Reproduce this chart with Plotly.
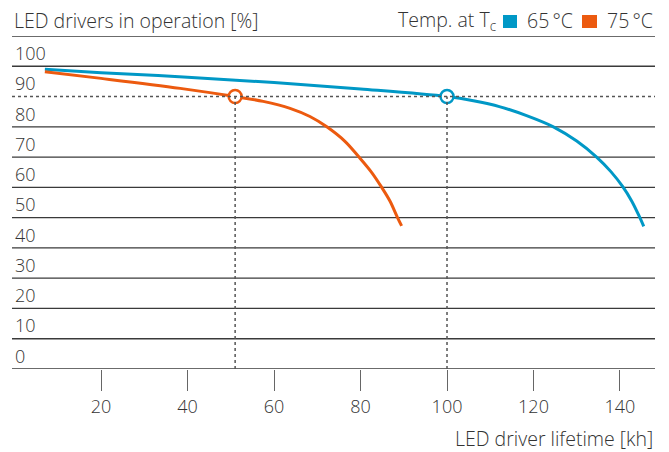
import plotly.graph_objects as go

# lifetime [kh] and share of drivers still running [%]
kh_65 = [7, 20, 40, 60, 80, 100, 106.1, 112.3, 118.4, 124.6, 130, 134.6, 137.9, 140.6, 142.7, 144.5, 145.5]
pct_65 = [99.0, 97.9, 96.4, 94.6, 92.5, 90, 88.6, 86.6, 83.7, 80, 75.3, 70, 65.2, 60.3, 55.5, 50.3, 47.1]

kh_75 = [7, 20, 38.3, 51, 57.5, 63.7, 68.3, 72.2, 76.4, 79.65, 82.6, 84.9, 86.8, 88.5, 89.5]
pct_75 = [98.2, 96.0, 92.7, 90, 88.4, 86.1, 83.4, 80, 75.2, 70, 64.9, 60, 55.5, 50.2, 47.3]

marker_kh = [100, 51]
marker_pct = [90, 90]

y_ticks = [0, 10, 20, 30, 40, 50, 60, 70, 80, 90, 100]
grid_levels = [0, 10, 20, 30, 40, 50, 60, 70, 80, 100, 110]
x_ticks = [20, 40, 60, 80, 100, 120, 140]

BLUE = "#0098c6"
ORANGE = "#ec5a0f"
TXT = "#333333"
FONT = "Open Sans"

fig = go.Figure()

# helper dotted lines at 90 %
fig.add_shape(type="line", xref="paper", x0=0, x1=1, y0=90, y1=90,
              line=dict(color="#555555", width=1.5, dash="3px,3px"))
for k in marker_kh:
    fig.add_shape(type="line", x0=k, x1=k, y0=0, y1=90,
                  line=dict(color="#555555", width=1.5, dash="3px,3px"))

for g in grid_levels:
    fig.add_shape(type="line", xref="paper", x0=0, x1=1, y0=g, y1=g,
                  line=dict(color="#3a3a3a", width=1.3), layer="below")

fig.add_trace(go.Scatter(x=kh_65, y=pct_65, mode="lines",
                         line=dict(color=BLUE, width=3, shape="spline", smoothing=1),
                         showlegend=False, hoverinfo="skip"))
fig.add_trace(go.Scatter(x=kh_75, y=pct_75, mode="lines",
                         line=dict(color=ORANGE, width=3, shape="spline", smoothing=1),
                         showlegend=False, hoverinfo="skip"))
fig.add_trace(go.Scatter(x=marker_kh, y=marker_pct, mode="markers",
                         marker=dict(size=13, color="white", line=dict(color=[BLUE, ORANGE], width=2.5)),
                         showlegend=False, hoverinfo="skip"))

fig.update_xaxes(range=[-0.6, 148.1], tickvals=x_ticks, showgrid=False, zeroline=False,
                 showline=False, ticks="outside", ticklen=21, tickcolor="#666666", tickwidth=1.3,
                 automargin=False,
                 tickfont=dict(size=18, color=TXT, family=FONT, weight=300))
fig.update_yaxes(range=[0, 110], tickvals=y_ticks, showgrid=False, zeroline=False, showline=False,
                 ticks="", ticklabelposition="inside top", automargin=False,
                 tickfont=dict(size=18, color=TXT, family=FONT, weight=300))

fig.add_annotation(text="LED drivers in operation [%]", xref="paper", yref="paper", x=0, y=1,
                   xanchor="left", yanchor="middle", yshift=16, showarrow=False,
                   font=dict(size=19.5, color=TXT, family=FONT, weight=300))
fig.add_annotation(text="LED driver lifetime [kh]", xref="paper", yref="paper", x=1, y=0,
                   xanchor="right", yanchor="middle", yshift=-69, showarrow=False,
                   font=dict(size=19.5, color=TXT, family=FONT, weight=300))

# legend
fig.add_annotation(text="Temp. at T<sub>c</sub>", xref="paper", yref="paper", x=0.757, y=1,
                   xanchor="right", yanchor="middle", yshift=16, showarrow=False,
                   font=dict(size=19.5, color=TXT, family=FONT, weight=300))
fig.add_annotation(text="65\u2009°C", xref="paper", yref="paper", x=0.8756, y=1,
                   xanchor="right", yanchor="middle", yshift=16, showarrow=False,
                   font=dict(size=19.5, color=TXT, family=FONT, weight=300))
fig.add_annotation(text="75\u2009°C", xref="paper", yref="paper", x=1, y=1,
                   xanchor="right", yanchor="middle", yshift=16, showarrow=False,
                   font=dict(size=19.5, color=TXT, family=FONT, weight=300))
fig.add_shape(type="rect", xref="paper", yref="paper", x0=0.7636, x1=0.7854, y0=1.024, y1=1.063,
              fillcolor=BLUE, line=dict(width=0))
fig.add_shape(type="rect", xref="paper", yref="paper", x0=0.8865, x1=0.9098, y0=1.024, y1=1.063,
              fillcolor=ORANGE, line=dict(width=0))

fig.update_layout(width=669, height=452, margin=dict(l=12, r=14, t=36, b=83),
                  plot_bgcolor="white", paper_bgcolor="white",
                  font=dict(family=FONT, color=TXT))

# the page's default body margin would push the 669x452 figure out of the window
fig.write_html("out.html", config={"displayModeBar": False},
               post_script="document.body.style.margin='0';")
